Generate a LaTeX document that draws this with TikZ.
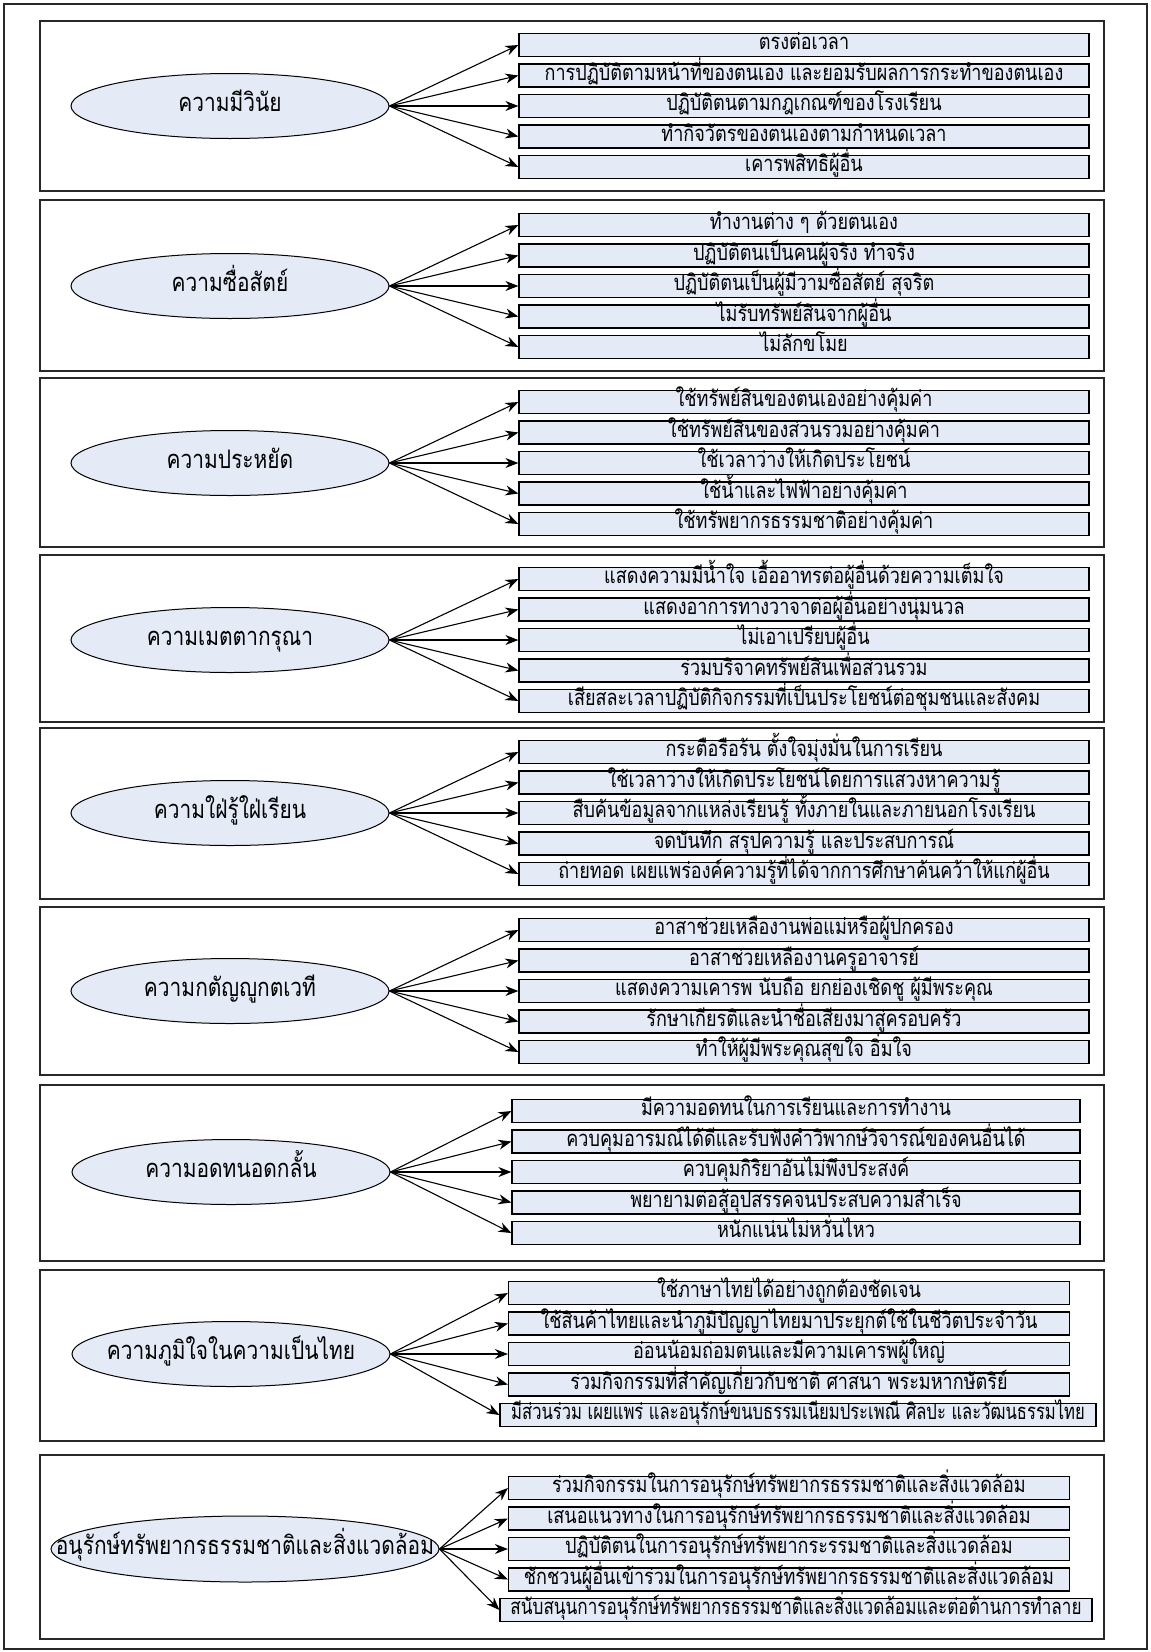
\documentclass[tikz,border=0pt]{standalone}
\usepackage{fontspec}
\usepackage{graphicx}
\newfontfamily\thaifont[Script=Thai,FakeStretch=0.82]{Loma}
\usetikzlibrary{arrows.meta,shapes.geometric}

\definecolor{boxfill}{RGB}{228,234,246}
\definecolor{framegray}{RGB}{40,40,40}

\begin{document}
\begin{tikzpicture}[x=1pt,y=-1pt,
	>={Stealth[length=13pt,width=10pt]},
	panel/.style={draw=framegray, line width=1.2pt},
	link/.style={->, line width=1.1pt},
	traitell/.style={ellipse, draw, line width=1pt, fill=boxfill, minimum width=318, minimum height=65, inner sep=0pt, text height=13pt, text depth=3pt, font=\thaifont\fontsize{25.5}{28}\selectfont},
	itembox/.style={rectangle, draw, line width=1.2pt, fill=boxfill, minimum width=570, minimum height=23, inner sep=0pt, text height=11pt, text depth=2pt, font=\thaifont\fontsize{22}{24}\selectfont}]
	\useasboundingbox (0,0) rectangle (1151,1652);
	\draw[panel] (4,4) rectangle (1147,1649);

	\draw[panel] (40,21) rectangle (1104,191);
	\node[traitell] (t1) at (230,106) {ความมีวินัย};
	\foreach \txt [count=\i] in {ตรงต่อเวลา, การปฏิบัติตามหน้าที่ของตนเอง และยอมรับผลการกระทำของตนเอง, ปฏิบัติตนตามกฎเกณฑ์ของโรงเรียน, ทำกิจวัตรของตนเองตามกำหนดเวลา, เคารพสิทธิผู้อื่น}
		\node[itembox] (t1-\i) at (804,{106+(\i-3)*30.5}) {\txt};
	\foreach \i in {1,...,5}
		\draw[link] (t1.east) -- (t1-\i.west);

	\draw[panel] (40,200) rectangle (1104,371);
	\node[traitell] (t2) at (230,286) {ความซื่อสัตย์};
	\foreach \txt [count=\i] in {ทำงานต่าง ๆ ด้วยตนเอง, ปฏิบัติตนเป็นคนผู้จริง ทำจริง, ปฏิบัติตนเป็นผู้มีวามซื่อสัตย์ สุจริต, ไม่รับทรัพย์สินจากผู้อื่น, ไม่ลักขโมย}
		\node[itembox] (t2-\i) at (804,{286+(\i-3)*30.5}) {\txt};
	\foreach \i in {1,...,5}
		\draw[link] (t2.east) -- (t2-\i.west);

	\draw[panel] (40,378) rectangle (1104,547);
	\node[traitell] (t3) at (230,463) {ความประหยัด};
	\foreach \txt [count=\i] in {ใช้ทรัพย์สินของตนเองอย่างคุ้มค่า, ใช้ทรัพย์สินของส่วนรวมอย่างคุ้มค่า, ใช้เวลาว่างให้เกิดประโยชน์, ใช้น้ำและไฟฟ้าอย่างคุ้มค่า, ใช้ทรัพยากรธรรมชาติอย่างคุ้มค่า}
		\node[itembox] (t3-\i) at (804,{463+(\i-3)*30.5}) {\txt};
	\foreach \i in {1,...,5}
		\draw[link] (t3.east) -- (t3-\i.west);

	\draw[panel] (40,555) rectangle (1104,722);
	\node[traitell] (t4) at (230,640) {ความเมตตากรุณา};
	\foreach \txt [count=\i] in {แสดงความมีน้ำใจ เอื้ออาทรต่อผู้อื่นด้วยความเต็มใจ, แสดงอาการทางวาจาต่อผู้อื่นอย่างนุ่มนวล, ไม่เอาเปรียบผู้อื่น, ร่วมบริจาคทรัพย์สินเพื่อส่วนรวม, เสียสละเวลาปฏิบัติกิจกรรมที่เป็นประโยชน์ต่อชุมชนและสังคม}
		\node[itembox] (t4-\i) at (804,{640+(\i-3)*30.5}) {\txt};
	\foreach \i in {1,...,5}
		\draw[link] (t4.east) -- (t4-\i.west);

	\draw[panel] (40,728) rectangle (1104,899);
	\node[traitell] (t5) at (230,813) {ความใฝ่รู้ใฝ่เรียน};
	\foreach \txt [count=\i] in {กระตือรือร้น ตั้งใจมุ่งมั่นในการเรียน, ใช้เวลาว่างให้เกิดประโยชน์โดยการแสวงหาความรู้, สืบค้นข้อมูลจากแหล่งเรียนรู้ ทั้งภายในและภายนอกโรงเรียน, จดบันทึก สรุปความรู้ และประสบการณ์, ถ่ายทอด เผยแพร่องค์ความรู้ที่ได้จากการศึกษาค้นคว้าให้แก่ผู้อื่น}
		\node[itembox] (t5-\i) at (804,{813+(\i-3)*30.5}) {\txt};
	\foreach \i in {1,...,5}
		\draw[link] (t5.east) -- (t5-\i.west);

	\draw[panel] (40,907) rectangle (1104,1075);
	\node[traitell] (t6) at (230,991) {ความกตัญญูกตเวที};
	\foreach \txt [count=\i] in {อาสาช่วยเหลืองานพ่อแม่หรือผู้ปกครอง, อาสาช่วยเหลืองานครูอาจารย์, แสดงความเคารพ นับถือ ยกย่องเชิดชู ผู้มีพระคุณ, รักษาเกียรติและนำชื่อเสียงมาสู่ครอบครัว, ทำให้ผู้มีพระคุณสุขใจ อิ่มใจ}
		\node[itembox] (t6-\i) at (804,{991+(\i-3)*30.5}) {\txt};
	\foreach \i in {1,...,5}
		\draw[link] (t6.east) -- (t6-\i.west);

	\draw[panel] (40,1085) rectangle (1104,1261);
	\node[traitell] (t7) at (231,1172) {ความอดทนอดกลั้น};
	\foreach \txt [count=\i] in {มีความอดทนในการเรียนและการทำงาน, ควบคุมอารมณ์ได้ดีและรับฟังคำวิพากษ์วิจารณ์ของคนอื่นได้, ควบคุมกิริยาอันไม่พึงประสงค์, พยายามต่อสู้อุปสรรคจนประสบความสำเร็จ, หนักแน่นไม่หวั่นไหว}
		\node[itembox, minimum width=568] (t7-\i) at (796,{1172+(\i-3)*30.5}) {\txt};
	\foreach \i in {1,...,5}
		\draw[link] (t7.east) -- (t7-\i.west);

	\draw[panel] (40,1270) rectangle (1104,1441);
	\node[traitell] (t8) at (231,1354) {\makebox[0pt]{ความภูมิใจในความเป็นไทย}};
	\foreach \txt [count=\i] in {ใช้ภาษาไทยได้อย่างถูกต้องชัดเจน, ใช้สินค้าไทยและนำภูมิปัญญาไทยมาประยุกต์ใช้ในชีวิตประจำวัน, อ่อนน้อมถ่อมตนและมีความเคารพผู้ใหญ่, ร่วมกิจกรรมที่สำคัญเกี่ยวกับชาติ ศาสนา พระมหากษัตริย์}
		\node[itembox, minimum width=561] (t8-\i) at (789,{1354+(\i-3)*30.5}) {\txt};
	\node[itembox, minimum width=596] (t8-5) at (798,1415) {\scalebox{0.92}[1]{มีส่วนร่วม เผยแพร่ และอนุรักษ์ขนบธรรมเนียมประเพณี ศิลปะ และวัฒนธรรมไทย}};
	\foreach \i in {1,...,5}
		\draw[link] (t8.east) -- (t8-\i.west);

	\draw[panel] (40,1455) rectangle (1104,1639);
	\node[traitell, minimum width=388, minimum height=66] (t9) at (245,1549) {\makebox[0pt]{อนุรักษ์ทรัพยากรธรรมชาติและสิ่งแวดล้อม}};
	\foreach \txt [count=\i] in {ร่วมกิจกรรมในการอนุรักษ์ทรัพยากรธรรมชาติและสิ่งแวดล้อม, เสนอแนวทางในการอนุรักษ์ทรัพยากรธรรมชาติและสิ่งแวดล้อม, ปฏิบัติตนในการอนุรักษ์ทรัพยากระรรมชาติและสิ่งแวดล้อม, ชักชวนผู้อื่นเข้าร่วมในการอนุรักษ์ทรัพยากรธรรมชาติและสิ่งแวดล้อม}
		\node[itembox, minimum width=561] (t9-\i) at (789,{1549+(\i-3)*30.5}) {\txt};
	\node[itembox, minimum width=592] (t9-5) at (796,1610) {\scalebox{0.95}[1]{สนับสนุนการอนุรักษ์ทรัพยากรธรรมชาติและสิ่งแวดล้อมและต่อต้านการทำลาย}};
	\foreach \i in {1,...,5}
		\draw[link] (t9.east) -- (t9-\i.west);
\end{tikzpicture}
\end{document}
